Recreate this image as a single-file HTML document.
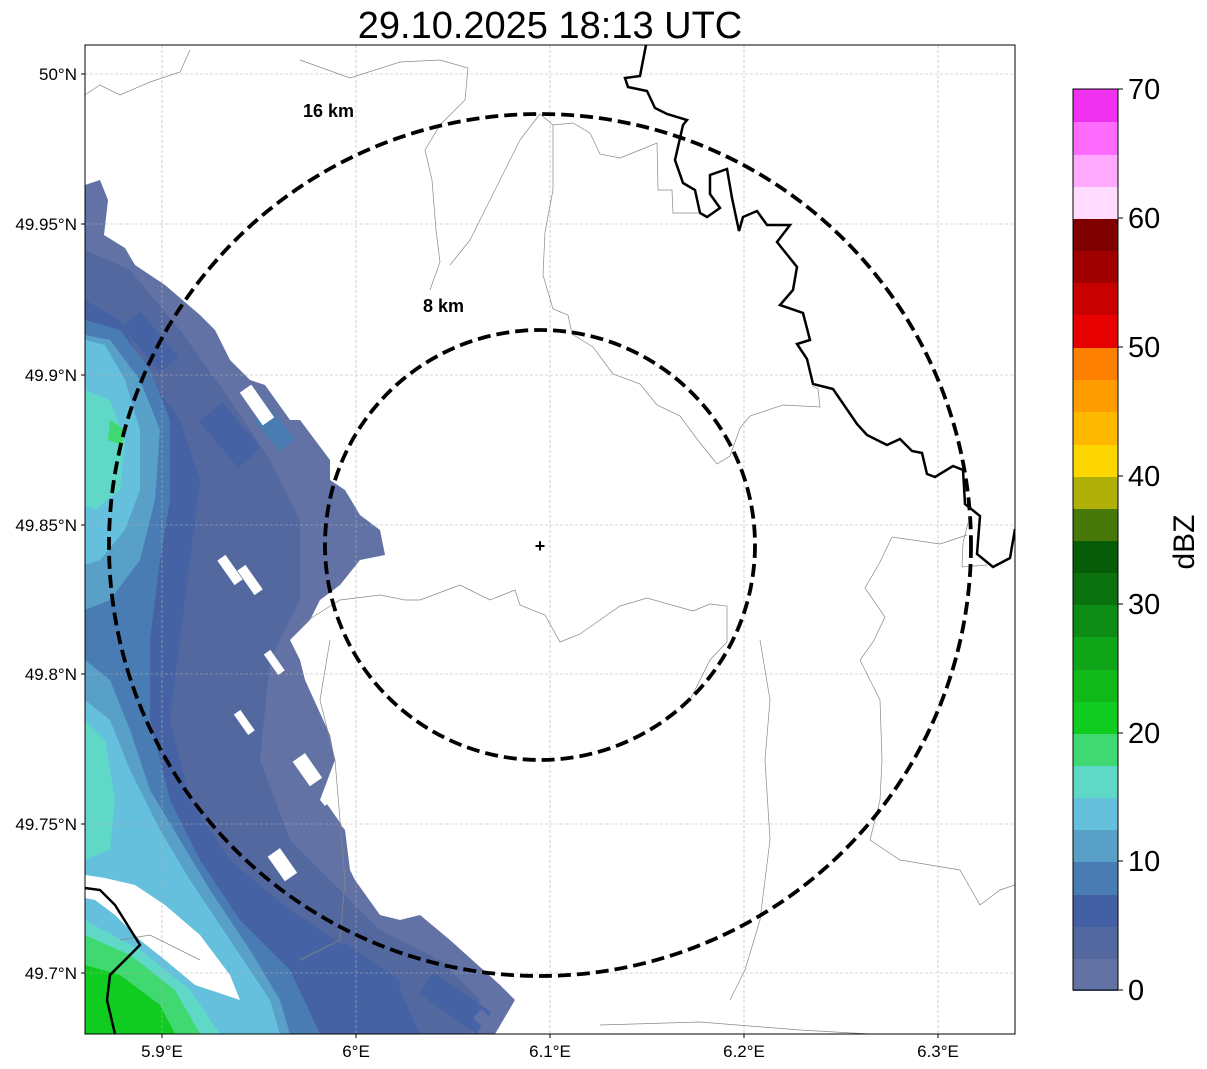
<!DOCTYPE html>
<html><head><meta charset="utf-8"><style>
html,body{margin:0;padding:0;background:#fff;}
svg{display:block;font-family:"Liberation Sans","DejaVu Sans",sans-serif;}
</style></head><body>
<svg width="1207" height="1069" viewBox="0 0 1207 1069" xmlns="http://www.w3.org/2000/svg">
<rect width="1207" height="1069" fill="#fff"/>
<text x="550" y="38" font-size="38" text-anchor="middle" fill="#000">29.10.2025 18:13 UTC</text>
<defs><clipPath id="c"><rect x="85" y="45" width="930" height="989"/></clipPath></defs>
<g clip-path="url(#c)">
<polygon fill="#6272a4" points="85,185 100,180 108,200 104,235 125,248 135,265 165,285 200,315 215,330 230,360 250,380 265,385 290,420 300,420 330,460 330,480 345,490 360,515 380,530 385,555 360,560 340,585 320,600 310,620 290,640 300,660 305,680 330,735 335,760 320,800 345,830 350,870 355,880 380,915 400,920 420,915 450,940 500,985 515,1000 495,1034 85,1034"/>
<g fill="#5468a0">
<polygon points="85,250 130,270 180,330 230,400 270,460 300,520 300,600 270,660 260,760 290,840 330,880 380,930 440,960 480,1000 470,1034 200,1034 150,960 110,900 85,870"/>
</g>
<g fill="#4462a6" opacity="0.9">
<polygon points="85,300 120,320 150,380 180,420 200,480 190,560 180,640 170,720 190,800 230,860 290,910 350,950 400,990 420,1034 250,1034 170,940 120,880 85,860"/>
<rect x="200" y="420" width="60" height="30" transform="rotate(50 230 435)"/>
<rect x="330" y="960" width="70" height="30" transform="rotate(35 365 975)"/>
<rect x="120" y="330" width="60" height="24" transform="rotate(50 150 342)"/>
<rect x="420" y="990" width="70" height="26" transform="rotate(35 455 1003)"/>
</g>
<g fill="#4a7cb4">
<polygon points="85,320 120,330 150,370 170,420 170,500 160,560 150,640 150,720 170,800 200,860 240,920 290,970 320,1034 85,1034"/>
<rect x="255" y="420" width="40" height="20" transform="rotate(50 275 430)"/>
</g>
<g fill="#58a0c8">
<polygon points="85,335 110,340 140,380 160,430 155,500 140,560 110,600 85,610"/>
<polygon points="85,660 110,680 130,730 150,790 180,840 210,890 250,950 280,1000 290,1034 85,1034"/>
</g>
<g fill="#64c0dc">
<polygon points="85,340 105,345 125,380 140,430 140,490 125,530 100,560 85,565"/>
<polygon points="85,700 110,720 130,770 160,830 190,880 230,940 270,1000 280,1034 85,1034"/>
</g>
<g fill="#60d8c8">
<polygon points="85,390 110,400 125,440 120,490 95,510 85,505"/>
<polygon points="85,720 105,740 115,800 110,850 85,860"/>
<polygon points="85,920 140,950 190,990 220,1034 85,1034"/>
</g>
<polygon fill="#40d870" points="85,935 130,955 175,990 200,1034 85,1034"/>
<polygon fill="#40d870" points="110,420 125,430 122,445 108,440"/>
<polygon fill="#10cc20" points="85,965 120,975 160,1005 175,1034 85,1034"/>
<g fill="#fff">
<polygon points="85,875 105,878 135,885 165,905 200,935 230,975 240,1000 225,995 195,985 165,960 140,940 115,915 95,900 85,898"/>
<rect x="250" y="385" width="14" height="40" transform="rotate(-35 257 405)"/>
<rect x="225" y="555" width="10" height="30" transform="rotate(-35 230 570)"/>
<rect x="245" y="565" width="10" height="30" transform="rotate(-35 250 580)"/>
<rect x="270" y="650" width="8" height="25" transform="rotate(-35 274 662)"/>
<rect x="240" y="710" width="8" height="25" transform="rotate(-35 244 722)"/>
<rect x="300" y="755" width="15" height="30" transform="rotate(-35 307 770)"/>
<rect x="275" y="850" width="15" height="30" transform="rotate(-35 282 865)"/>
</g>
<g fill="#6272a4">
<rect x="355" y="520" width="18" height="30" transform="rotate(-35 364 535)"/>
<rect x="325" y="805" width="10" height="25" transform="rotate(-35 330 817)"/>
<rect x="425" y="935" width="12" height="25" transform="rotate(-45 431 947)"/>
<rect x="480" y="1010" width="12" height="25" transform="rotate(-45 486 1022)"/>
</g>
</g>
<g stroke="#b0b0b0" stroke-width="0.6" stroke-dasharray="3,2" fill="none">
<line x1="162" y1="45" x2="162" y2="1034"/><line x1="356" y1="45" x2="356" y2="1034"/>
<line x1="550" y1="45" x2="550" y2="1034"/><line x1="744" y1="45" x2="744" y2="1034"/>
<line x1="938" y1="45" x2="938" y2="1034"/>
<line x1="85" y1="74" x2="1015" y2="74"/><line x1="85" y1="224" x2="1015" y2="224"/>
<line x1="85" y1="375" x2="1015" y2="375"/><line x1="85" y1="525" x2="1015" y2="525"/>
<line x1="85" y1="674" x2="1015" y2="674"/><line x1="85" y1="824" x2="1015" y2="824"/>
<line x1="85" y1="973" x2="1015" y2="973"/>
</g>
<g clip-path="url(#c)" fill="none">
<g stroke="#888" stroke-width="0.7">
<polyline points="85,95 100,85 120,95 150,82 180,72 190,50"/>
<polyline points="300,60 350,78 400,62 440,60 468,68 465,100 440,125 425,150 432,180 436,230 440,262 430,290"/>
<polyline points="540,114 553,125 573,123 590,133 600,154 620,158 640,150 657,143 658,190 672,190 673,213 698,213"/>
<polyline points="553,125 553,190 545,232 543,275 553,309 568,315 572,334 593,347 613,374 640,384 657,405 680,416 697,439 717,464 730,456 740,428 750,416 783,405 820,407 818,389 813,386"/>
<polyline points="540,114 520,140 495,190 470,240 450,265"/>
<polyline points="300,625 340,600 380,595 405,600 420,600 460,585 490,600 515,590 520,605 545,615 560,642 580,634 607,615 620,606 647,598 693,611 710,604 727,606 727,642 710,660 690,700"/>
<polyline points="968,523 963,543 962,567 987,565"/>
<polyline points="967,535 940,544 892,537 880,562 865,588 885,617 873,642 860,660 880,700 882,760 880,800 870,840 900,860 960,870 980,905 1000,890 1015,885"/>
<polyline points="760,640 770,700 765,760 770,840 760,920 745,970 730,1000"/>
<polyline points="600,1025 700,1022 800,1030 870,1034"/>
<polyline points="330,640 320,700 335,760 340,820 345,880 340,940 300,960"/>
<polyline points="120,940 150,935 180,950 200,960"/>
</g>
<polyline stroke="#000" stroke-width="2.5" points="646,45 640,76 625,78 628,87 647,91 655,108 667,114 687,120 683,125 675,160 683,183 695,190 700,213 707,217 720,208 710,194 710,175 727,169 732,198 739,231 743,217 757,211 767,225 790,225 777,242 797,267 793,290 780,305 803,313 810,340 797,344 807,359 813,384 833,389 857,424 867,435 887,445 900,439 912,451 922,453 927,474 935,477 953,466 963,470 965,504 980,516 977,554 993,567 1010,558 1015,529"/>
<polyline stroke="#000" stroke-width="2.5" points="85,888 100,890 115,905 140,945 125,960 110,975 107,1000 115,1034"/>
<circle cx="540" cy="545" r="215" stroke="#000" stroke-width="3.8" stroke-dasharray="13,6"/>
<circle cx="540" cy="545" r="431" stroke="#000" stroke-width="3.8" stroke-dasharray="13,6"/>
</g>
<text x="303" y="117" font-size="18" font-weight="bold">16 km</text>
<text x="423" y="312" font-size="18" font-weight="bold">8 km</text>
<text x="540" y="552" font-size="18" font-weight="bold" text-anchor="middle">+</text>
<rect x="85" y="45" width="930" height="989" fill="none" stroke="#000" stroke-width="1"/>
<g stroke="#000" stroke-width="1">
<line x1="162" y1="1034" x2="162" y2="1038"/><line x1="356" y1="1034" x2="356" y2="1038"/><line x1="550" y1="1034" x2="550" y2="1038"/><line x1="744" y1="1034" x2="744" y2="1038"/><line x1="938" y1="1034" x2="938" y2="1038"/>
<line x1="81" y1="74" x2="85" y2="74"/><line x1="81" y1="224" x2="85" y2="224"/><line x1="81" y1="375" x2="85" y2="375"/><line x1="81" y1="525" x2="85" y2="525"/><line x1="81" y1="674" x2="85" y2="674"/><line x1="81" y1="824" x2="85" y2="824"/><line x1="81" y1="973" x2="85" y2="973"/>
</g>
<g font-size="17" text-anchor="middle">
<text x="162" y="1057">5.9°E</text><text x="356" y="1057">6°E</text><text x="550" y="1057">6.1°E</text><text x="744" y="1057">6.2°E</text><text x="938" y="1057">6.3°E</text>
</g>
<g font-size="17" text-anchor="end">
<text x="77" y="80">50°N</text><text x="77" y="230">49.95°N</text><text x="77" y="381">49.9°N</text><text x="77" y="531">49.85°N</text><text x="77" y="680">49.8°N</text><text x="77" y="830">49.75°N</text><text x="77" y="979">49.7°N</text>
</g>
<g>
<rect x="1073" y="958" width="45" height="33" fill="#6272a4"/>
<rect x="1073" y="926" width="45" height="33" fill="#5468a0"/>
<rect x="1073" y="894" width="45" height="33" fill="#4460a4"/>
<rect x="1073" y="861" width="45" height="34" fill="#4a7cb4"/>
<rect x="1073" y="829" width="45" height="33" fill="#58a0c8"/>
<rect x="1073" y="797" width="45" height="33" fill="#64c0dc"/>
<rect x="1073" y="765" width="45" height="33" fill="#60d8c8"/>
<rect x="1073" y="733" width="45" height="33" fill="#40d870"/>
<rect x="1073" y="701" width="45" height="33" fill="#10cc20"/>
<rect x="1073" y="669" width="45" height="33" fill="#10b818"/>
<rect x="1073" y="636" width="45" height="34" fill="#10a418"/>
<rect x="1073" y="604" width="45" height="33" fill="#0c8c14"/>
<rect x="1073" y="572" width="45" height="33" fill="#0b7010"/>
<rect x="1073" y="540" width="45" height="33" fill="#065c06"/>
<rect x="1073" y="508" width="45" height="33" fill="#487808"/>
<rect x="1073" y="476" width="45" height="33" fill="#b0b008"/>
<rect x="1073" y="444" width="45" height="33" fill="#ffd700"/>
<rect x="1073" y="411" width="45" height="34" fill="#ffb800"/>
<rect x="1073" y="379" width="45" height="33" fill="#ff9c00"/>
<rect x="1073" y="347" width="45" height="33" fill="#ff8000"/>
<rect x="1073" y="314" width="45" height="34" fill="#e60000"/>
<rect x="1073" y="282" width="45" height="33" fill="#c80000"/>
<rect x="1073" y="250" width="45" height="33" fill="#a00000"/>
<rect x="1073" y="218" width="45" height="33" fill="#800000"/>
<rect x="1073" y="186" width="45" height="33" fill="#ffdcff"/>
<rect x="1073" y="154" width="45" height="33" fill="#ffaaff"/>
<rect x="1073" y="121" width="45" height="34" fill="#ff6aff"/>
<rect x="1073" y="89" width="45" height="33" fill="#f032f0"/>
<rect x="1073" y="89" width="45" height="901" fill="none" stroke="#000" stroke-width="1"/>
</g>
<g stroke="#000"><line x1="1118" y1="990" x2="1123" y2="990"/><line x1="1118" y1="861" x2="1123" y2="861"/><line x1="1118" y1="733" x2="1123" y2="733"/><line x1="1118" y1="604" x2="1123" y2="604"/><line x1="1118" y1="476" x2="1123" y2="476"/><line x1="1118" y1="347" x2="1123" y2="347"/><line x1="1118" y1="218" x2="1123" y2="218"/><line x1="1118" y1="89" x2="1123" y2="89"/></g>
<g font-size="29">
<text x="1128" y="1000">0</text><text x="1128" y="871">10</text><text x="1128" y="743">20</text><text x="1128" y="614">30</text><text x="1128" y="486">40</text><text x="1128" y="357">50</text><text x="1128" y="228">60</text><text x="1128" y="99">70</text>
</g>
<text x="1194" y="542" font-size="30" text-anchor="middle" transform="rotate(-90 1194 542)">dBZ</text>
</svg>
</body></html>
